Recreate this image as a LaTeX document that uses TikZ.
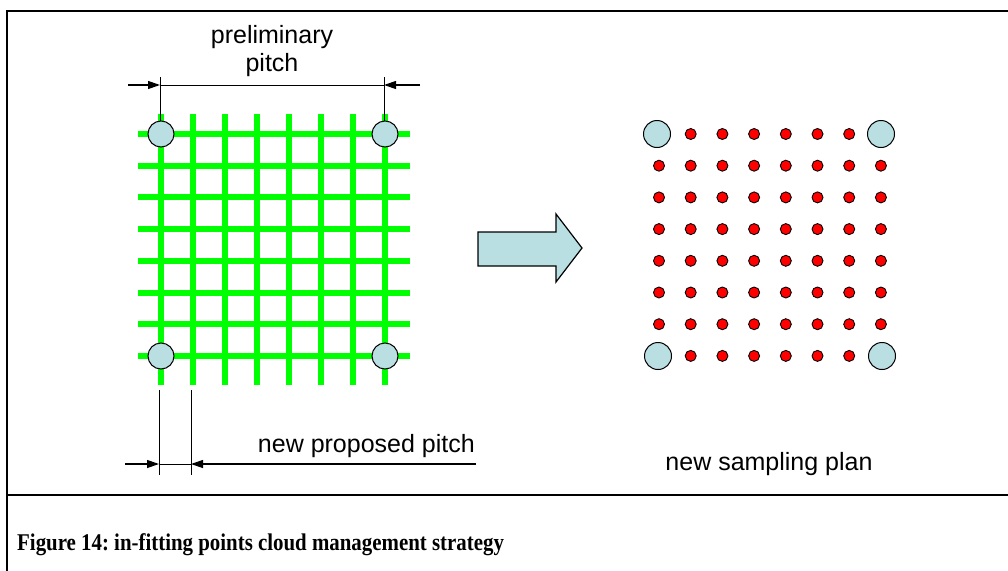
\documentclass[tikz,border=0pt]{standalone}
\usepackage{graphicx}
\usepackage{fontspec}
\setmainfont{Liberation Serif}
\newfontfamily\arialfont{Liberation Sans}
\usetikzlibrary{arrows.meta}
\definecolor{dotblue}{RGB}{185,223,226}
\definecolor{gridgreen}{RGB}{0,255,0}
\definecolor{dotred}{RGB}{255,0,0}
\frenchspacing
\begin{document}
\begin{tikzpicture}[x=1pt,y=-1pt,
  frameline/.style={line width=2.6pt,black},
  gridline/.style={line width=6pt,gridgreen},
  bigdot/.style={circle,draw=black,line width=1pt,fill=dotblue,minimum size=26pt,inner sep=0pt},
  bigdotr/.style={circle,draw=black,line width=1pt,fill=dotblue,minimum size=27pt,inner sep=0pt},
  reddot/.style={circle,draw=black,line width=0.9pt,fill=dotred,minimum size=11pt,inner sep=0pt},
  dimline/.style={line width=0.9pt,black},
  dimarrow/.style={line width=1.2pt,black,-{Triangle[length=12pt,width=8pt]}},
  label/.style={font=\arialfont\fontsize{25}{28}\selectfont,inner sep=0pt},
  captionstyle/.style={font=\bfseries\fontsize{24}{28}\selectfont,inner sep=0pt}
]
\useasboundingbox (0,0) rectangle (1008,570);
\clip (0,0) rectangle (1008,570);
% frame
\draw[frameline] (7,600) -- (7,11) -- (1020,11);
\draw[frameline] (7,495) -- (1020,495);
% green grid
\foreach \i in {0,...,7}{
  \draw[gridline] ({161+32*\i},114) -- ({161+32*\i},385);
  \draw[gridline] (138,{134+31.71*\i}) -- (410,{134+31.71*\i});
}
% corner circles on the grid
\node[bigdot] (tl) at (161,134) {};
\node[bigdot] (tr) at (385,134) {};
\node[bigdot] (bl) at (161,356) {};
\node[bigdot] (br) at (385,356) {};
% preliminary pitch dimension
\coordinate (pl) at (160,85);
\coordinate (pr) at (384,85);
\coordinate (pltop) at (160,77);
\coordinate (prtop) at (384,77);
\coordinate (plout) at (128,85);
\coordinate (prout) at (420,85);
\draw[dimline] (pltop) -- (tl.north -| pltop);
\draw[dimline] (prtop) -- (tr.north -| prtop);
\draw[dimline] (pl) -- (pr);
\draw[dimarrow] (plout) -- (pl);
\draw[dimarrow] (prout) -- (pr);
\node[label,align=center] (prelim) at (272,51) {preliminary\\pitch};
% new proposed pitch dimension
\coordinate (na) at (159,390);
\coordinate (nb) at (191,390);
\coordinate (nabot) at (159,475);
\coordinate (nbbot) at (191,475);
\coordinate (nl) at (159,464);
\coordinate (nr) at (191,464);
\coordinate (nlout) at (125,464);
\coordinate (nrout) at (476,464);
\draw[dimline] (na) -- (nabot);
\draw[dimline] (nb) -- (nbbot);
\draw[dimline] (nl) -- (nr);
\draw[dimarrow] (nlout) -- (nl);
\draw[dimarrow] (nrout) -- (nr);
\node[label,anchor=base east] (npp) at (475,452) {new proposed pitch};
% block arrow
\draw[line width=1.2pt,fill=dotblue,line join=miter]
  (478,232) -- (556,232) -- (556,214) -- (582,248) -- (556,282) -- (556,266) -- (478,266) -- cycle;
% sampling plan
\foreach \r in {0,...,7}{
  \foreach \c in {0,...,7}{
    \pgfmathtruncatemacro{\corner}{((\r==0)||(\r==7))&&((\c==0)||(\c==7))}
    \ifnum\corner=0
      \node[reddot] (d\r\c) at ({659+31.7*\c},{134+31.7*\r}) {};
    \fi
  }
}
\node[bigdotr] (stl) at (657,134) {};
\node[bigdotr] (str) at (881,134) {};
\node[bigdotr] (sbl) at (658,356) {};
\node[bigdotr] (sbr) at (882,356) {};
\node[label,anchor=base] (nsp) at (769,470) {new sampling plan};
% caption
\node[captionstyle,anchor=base west] (cap) at (17,550) {\scalebox{0.87}[1]{Figure 14: in-fitting points cloud management strategy}};
\end{tikzpicture}
\end{document}
